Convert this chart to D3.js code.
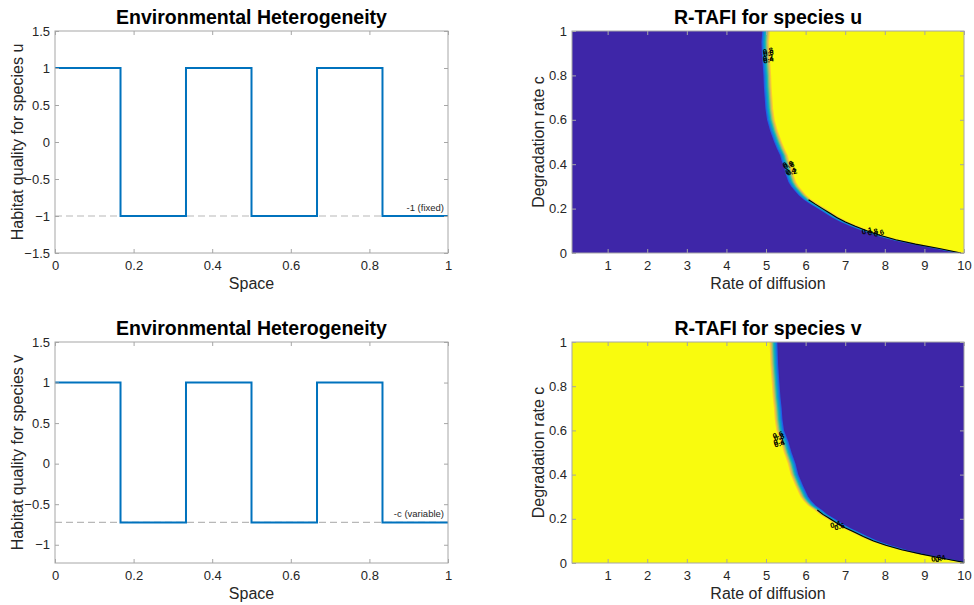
<!DOCTYPE html>
<html>
<head>
<meta charset="utf-8">
<script src="https://cdn.jsdelivr.net/npm/d3@7"></script>
<style>
  html, body { margin: 0; padding: 0; background: #fff; }
  svg { display: block; font-family: "Liberation Sans", Arial, Helvetica, sans-serif; }
</style>
</head>
<body>
<svg id="chart" width="974" height="605"></svg>
<script>
// ---------- data ----------
const spaceBreaks = [0, 0.1667, 0.3333, 0.5, 0.6667, 0.8333, 1];
const habitatU = [1, -1, 1, -1, 1, -1];
const habitatV = [1, -0.725, 1, -0.725, 1, -0.725];
const refLevelU = -1;
const refLevelV = -0.725;
const noteU = "-1 (fixed)";
const noteV = "-c (variable)";

const spaceTicks = [0, 0.2, 0.4, 0.6, 0.8, 1];
const habitatTicksU = [-1.5, -1, -0.5, 0, 0.5, 1, 1.5];
const habitatTicksV = [-1, -0.5, 0, 0.5, 1, 1.5];
const diffTicks = [1, 2, 3, 4, 5, 6, 7, 8, 9, 10];
const degTicks = [0, 0.2, 0.4, 0.6, 0.8, 1];

// boundary between the two regions: degradation rate c -> critical diffusion rate
const boundaryC_U = [1.00,0.95,0.90,0.85,0.80,0.75,0.70,0.65,0.60,0.55,0.50,0.47,0.44,0.42,0.40,0.38,0.36,0.34,0.32,0.30,0.28,0.26,0.24,0.22,0.20,0.18,0.16,0.14,0.12,0.10,0.08,0.06,0.04,0.02,0.00];
const boundaryD_U = [5.10,5.08,5.09,5.11,5.13,5.14,5.16,5.18,5.22,5.30,5.40,5.47,5.55,5.58,5.62,5.66,5.68,5.72,5.76,5.83,5.92,6.02,6.15,6.32,6.50,6.68,6.86,7.08,7.33,7.62,7.95,8.35,8.85,9.45,10.0];
const boundaryC_V = [1.00,0.95,0.90,0.85,0.80,0.75,0.70,0.65,0.60,0.55,0.50,0.45,0.40,0.35,0.30,0.28,0.26,0.24,0.22,0.20,0.18,0.16,0.14,0.12,0.10,0.08,0.06,0.04,0.02,0.00];
const boundaryD_V = [5.09,5.10,5.11,5.13,5.15,5.17,5.20,5.22,5.26,5.37,5.45,5.55,5.62,5.74,5.87,5.95,6.06,6.22,6.36,6.54,6.72,6.92,7.15,7.38,7.64,7.95,8.35,8.85,9.41,10.0];

// contour label clutter (diffusion, degradation, text)
const labelsU = [[5.05,0.91,"0.8"],[5.06,0.90,"0.6"],[5.05,0.88,"0.2"],[5.06,0.87,"0.4"],
                 [5.55,0.40,"0.6"],[5.58,0.395,"0.8"],[5.62,0.37,"0.4"],[5.65,0.365,"0.2"],
                 [7.55,0.10,"0.1"],[7.70,0.095,"0.8"],[7.85,0.09,"0.6"]];
const labelsV = [[5.30,0.58,"0.6"],[5.33,0.57,"0.8"],[5.32,0.55,"0.2"],[5.34,0.54,"0.4"],
                 [6.75,0.175,"0.4"],[6.85,0.165,"0.6"],[9.30,0.022,"0.8"],[9.40,0.02,"0.4"]];

const parula = ["#3e26a8","#1f5fe6","#1684d9","#06a4ca","#2eb7a4","#87bf77","#d1bb59","#fbcc30","#f9fb0e"];

// ---------- layout ----------
const svg = d3.select("#chart");
const L = {x0: 55, x1: 448};
const R = {x0: 572, x1: 964};
const TOP = {y0: 31, y1: 253};
const BOT = {y0: 342, y1: 563};
const textCol = "#262626";
const axisCol = "#a6a6a6";

function box(g, x0, x1, y0, y1) {
  g.append("rect").attr("x", x0).attr("y", y0).attr("width", x1 - x0).attr("height", y1 - y0)
    .attr("fill", "none").attr("stroke", axisCol).attr("stroke-width", 1);
}

function axes(g, xs, ys, xt, yt, xfmt, yfmt, xLabel, yLabel, title, x0, x1, y0, y1, yLabelX) {
  const ax = d3.axisBottom(xs).tickValues(xt).tickSize(-4).tickPadding(8).tickFormat(xfmt);
  const gx = g.append("g").attr("transform", `translate(0,${y1})`).call(ax);
  const ay = d3.axisLeft(ys).tickValues(yt).tickSize(-4).tickPadding(5).tickFormat(yfmt);
  const gy = g.append("g").attr("transform", `translate(${x0},0)`).call(ay);
  const gxt = g.append("g").attr("transform", `translate(0,${y0})`).call(d3.axisTop(xs).tickValues(xt).tickSize(-4).tickFormat(""));
  const gyr = g.append("g").attr("transform", `translate(${x1},0)`).call(d3.axisRight(ys).tickValues(yt).tickSize(-4).tickFormat(""));
  [gx, gy, gxt, gyr].forEach(a => {
    a.select(".domain").remove();
    a.selectAll("line").attr("stroke", axisCol);
    a.selectAll("text").attr("fill", textCol).attr("font-size", 13)
      .attr("font-family", '"Liberation Sans", Arial, Helvetica, sans-serif');
  });
  box(g, x0, x1, y0, y1);
  g.append("text").attr("x", (x0 + x1) / 2).attr("y", y1 + 36).attr("text-anchor", "middle")
    .attr("font-size", 16).attr("fill", textCol).text(xLabel);
  g.append("text").attr("transform", `translate(${yLabelX},${(y0 + y1) / 2}) rotate(-90)`)
    .attr("text-anchor", "middle").attr("dy", "0.35em").attr("font-size", 16).attr("fill", textCol).text(yLabel);
  g.append("text").attr("x", (x0 + x1) / 2).attr("y", y0 - 7).attr("text-anchor", "middle")
    .attr("font-size", 19.5).attr("font-weight", "bold").attr("fill", "#000").text(title);
}

function stepPanel(band, values, level, note, yDomain, yTicks, yLabel) {
  const g = svg.append("g");
  const xs = d3.scaleLinear().domain([0, 1]).range([L.x0, L.x1]);
  const ys = d3.scaleLinear().domain(yDomain).range([band.y1, band.y0]);
  g.append("line").attr("x1", xs(0)).attr("x2", xs(1)).attr("y1", ys(level)).attr("y2", ys(level))
    .attr("stroke", "#b8b8b8").attr("stroke-width", 1.2).attr("stroke-dasharray", "7,4");
  const pts = [];
  values.forEach((v, i) => { pts.push([spaceBreaks[i], v]); pts.push([spaceBreaks[i + 1], v]); });
  g.append("path").attr("d", d3.line().x(d => xs(d[0])).y(d => ys(d[1]))(pts))
    .attr("fill", "none").attr("stroke", "#0072bd").attr("stroke-width", 2);
  g.append("text").attr("x", xs(1) - 4).attr("y", ys(level) - 5).attr("text-anchor", "end")
    .attr("font-size", 9.5).attr("fill", textCol).text(note);
  axes(g, xs, ys, spaceTicks, yTicks, d3.format("~g"), d3.format("~g"),
       "Space", yLabel, "Environmental Heterogeneity", L.x0, L.x1, band.y0, band.y1, 17);
}

let clipId = 0;
function contourPanel(band, cs, ds, leftIsPurple, labels, title) {
  const g = svg.append("g");
  const xs = d3.scaleLinear().domain([0.1, 10]).range([R.x0, R.x1]);
  const ys = d3.scaleLinear().domain([0, 1]).range([band.y1, band.y0]);
  const id = "clip" + (clipId++);
  g.append("clipPath").attr("id", id).append("rect")
    .attr("x", R.x0).attr("y", band.y0).attr("width", R.x1 - R.x0).attr("height", band.y1 - band.y0);
  const pg = g.append("g").attr("clip-path", `url(#${id})`);
  const bgCol = leftIsPurple ? parula[0] : parula[8];
  pg.append("rect").attr("x", R.x0).attr("y", band.y0).attr("width", R.x1 - R.x0).attr("height", band.y1 - band.y0).attr("fill", bgCol);
  const step = 1.1;
  const regionPath = off => {
    const pts = cs.map((c, i) => [xs(ds[i]) + off, ys(c)]);
    pts.push([R.x1 + 20, band.y1 + 20]);
    pts.push([R.x1 + 20, band.y0 - 20]);
    pts.unshift([xs(ds[0]) + off, band.y0 - 20]);
    return "M" + pts.map(p => p.join(",")).join("L") + "Z";
  };
  if (leftIsPurple) {
    for (let k = 7; k >= 0; k--) {
      pg.append("path").attr("d", regionPath(-k * step)).attr("fill", parula[8 - k]);
    }
  } else {
    for (let k = 0; k <= 7; k++) {
      pg.append("path").attr("d", regionPath(k * step)).attr("fill", parula[7 - k]);
    }
    pg.append("path").attr("d", regionPath(8 * step)).attr("fill", parula[0]);
  }
  const low = cs.map((c, i) => [ds[i], c]).filter(d => d[1] <= 0.24);
  pg.append("path").attr("d", d3.line().x(d => xs(d[0]) + (leftIsPurple ? -3 : 3)).y(d => ys(d[1]))(low))
    .attr("fill", "none").attr("stroke", "#000").attr("stroke-width", 1.1);
  labels.forEach(l => {
    pg.append("text").attr("x", xs(l[0])).attr("y", ys(l[1])).attr("text-anchor", "middle")
      .attr("dy", "0.35em").attr("font-size", 7.5).attr("font-weight", "bold").attr("fill", "#000")
      .attr("transform", `rotate(-15,${xs(l[0])},${ys(l[1])})`).text(l[2]);
  });
  axes(g, xs, ys, diffTicks, degTicks, d3.format("~g"), d3.format("~g"),
       "Rate of diffusion", "Degradation rate c", title, R.x0, R.x1, band.y0, band.y1, 538);
}

stepPanel(TOP, habitatU, refLevelU, noteU, [-1.5, 1.5], habitatTicksU, "Habitat quality for species u");
stepPanel(BOT, habitatV, refLevelV, noteV, [-1.225, 1.5], habitatTicksV, "Habitat quality for species v");
contourPanel(TOP, boundaryC_U, boundaryD_U, true, labelsU, "R-TAFI for species u");
contourPanel(BOT, boundaryC_V, boundaryD_V, false, labelsV, "R-TAFI for species v");
</script>
</body>
</html>
